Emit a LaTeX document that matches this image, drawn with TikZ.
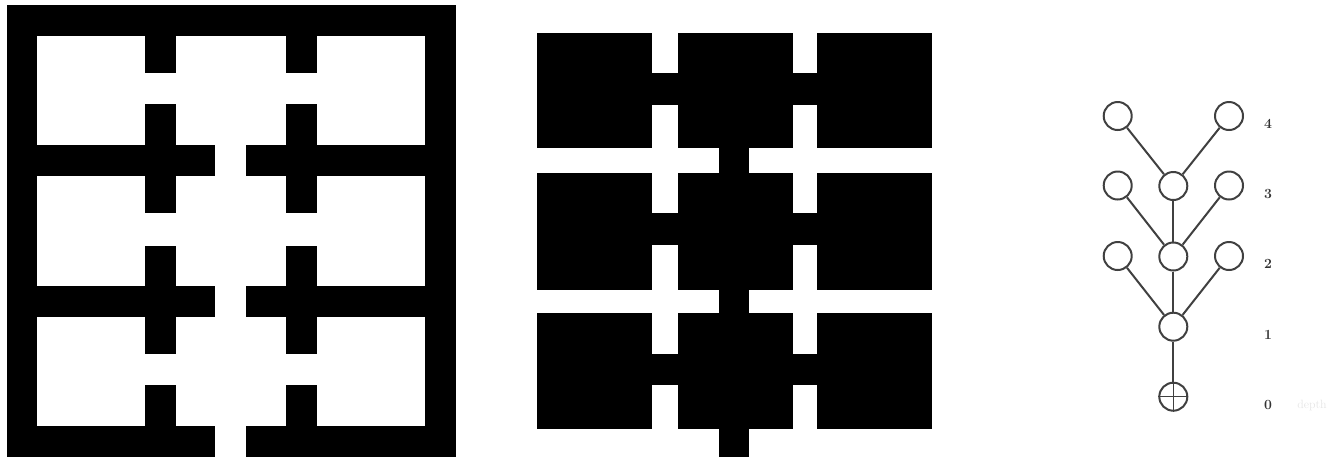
\documentclass[tikz,border=0pt]{standalone}
\usepackage{amsmath}
\usepackage{tikz}
\usetikzlibrary{calc}
\usepackage[dvipsnames]{xcolor}

\begin{document}
\begin{tikzpicture}[x=1pt,y=-1pt,anchor=center,
    vertex/.style={circle,draw=black!75,line width=2pt,minimum size=28pt,inner sep=0pt},
    treeedge/.style={draw=black!75,line width=2pt},
    depthlabel/.style={font=\fontsize{14}{16}\selectfont\bfseries,text=black!80,inner sep=0pt}]
  \useasboundingbox (0,0) rectangle (1343,459);
  % walls
  \fill (6.5,5) rectangle (456,36);
  \fill (6.5,5) rectangle (37,457);
  \fill (425,5) rectangle (456,457);
  \foreach \ytop in {144.5,286,425.5} {
    \fill (6.5,\ytop) rectangle (215,\ytop+31);
    \fill (246,\ytop) rectangle (456,\ytop+31);
  }
  \foreach \xleft in {145,286} {
    \fill (\xleft,36) rectangle (\xleft+31,73);
    \fill (\xleft,104) rectangle (\xleft+31,212.5);
    \fill (\xleft,245.5) rectangle (\xleft+31,353.5);
    \fill (\xleft,385) rectangle (\xleft+31,426);
  }
  % blocks
  \foreach \ytop/\ybot in {32.7/148,172.7/290,313.3/429.3} {
    \fill (537,\ytop) rectangle (651.7,\ybot);
    \fill (677.7,\ytop) rectangle (793,\ybot);
    \fill (816.7,\ytop) rectangle (932,\ybot);
  }
  \foreach \ytop/\ybot in {73.3/104.7,212.7/245.3,354/385} {
    \fill (651,\ytop) rectangle (678.5,\ybot);
    \fill (792,\ytop) rectangle (817.5,\ybot);
  }
  \foreach \ytop/\ybot in {147/174,289/314,428/457} {
    \fill (718.7,\ytop) rectangle (748.7,\ybot);
  }
  % tree
  \node[vertex] (root) at (1173.3,396.7) {};
  \node[vertex] (c1) at (1173.3,326.7) {};
  \node[vertex] (c2) at (1173.3,256.5) {};
  \node[vertex] (c3) at (1173.3,186) {};
  \node[vertex] (l2) at (1117.7,256) {};
  \node[vertex] (r2) at (1229,256) {};
  \node[vertex] (l3) at (1117.7,185.5) {};
  \node[vertex] (r3) at (1229,185.5) {};
  \node[vertex] (l4) at (1117.7,116) {};
  \node[vertex] (r4) at (1229,116) {};
  \draw[treeedge] (root) -- (c1);
  \draw[treeedge] (c1) -- (c2);
  \draw[treeedge] (c2) -- (c3);
  \draw[treeedge] (c1) -- (l2);
  \draw[treeedge] (c1) -- (r2);
  \draw[treeedge] (c2) -- (l3);
  \draw[treeedge] (c2) -- (r3);
  \draw[treeedge] (c3) -- (l4);
  \draw[treeedge] (c3) -- (r4);
  \draw[treeedge,line width=1.5pt] (root.north) -- (root.south);
  \draw[treeedge,line width=1.5pt] (root.west) -- (root.east);
  \node[depthlabel] (d4) at (1268,124) {4};
  \node[depthlabel] (d3) at (1268,194) {3};
  \node[depthlabel] (d2) at (1268,264) {2};
  \node[depthlabel] (d1) at (1268,335) {1};
  \node[depthlabel] (d0) at (1268,405) {0};
  \node[font=\fontsize{12}{14}\selectfont,text=black!10,inner sep=0pt] (depth) at (1312,405) {depth};
\end{tikzpicture}
\end{document}
